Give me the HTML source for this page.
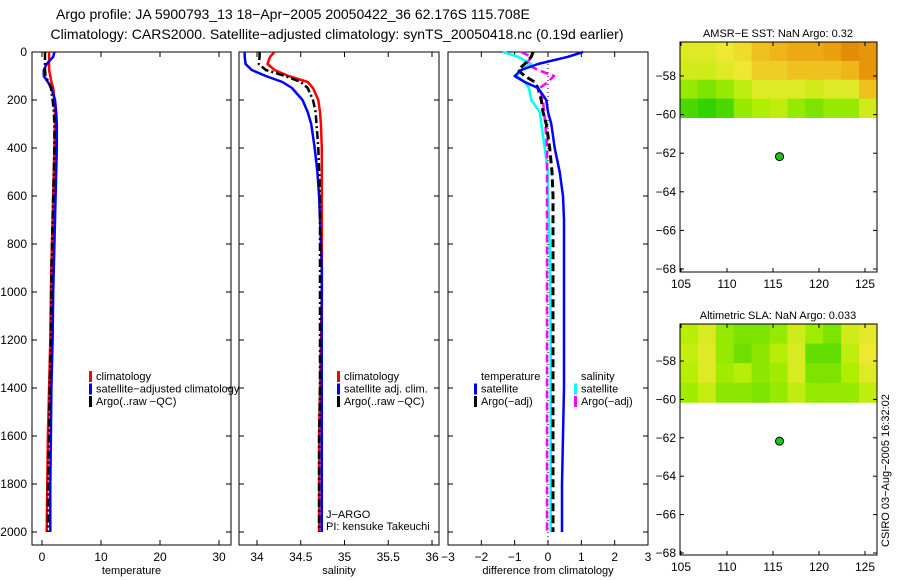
<!DOCTYPE html>
<html><head><meta charset="utf-8"><style>
body{margin:0;background:#fff;}
svg{display:block;font-family:"Liberation Sans",sans-serif;}
</style></head><body>
<svg id="c" width="900" height="580" viewBox="0 0 900 580">
<text x="56" y="19" font-size="14">Argo profile: JA 5900793_13 18−Apr−2005 20050422_36 62.176S 115.708E</text>
<text x="337" y="39" text-anchor="middle" font-size="14" textLength="573">Climatology: CARS2000. Satellite−adjusted climatology: synTS_20050418.nc (0.19d earlier)</text>
<g id="g"></g>
<text transform="translate(889,547) rotate(-90)" font-size="11">CSIRO 03−Aug−2005 16:32:02</text>
</svg>
<script>
const depths=[0,20,50,75,100,125,150,200,250,300,400,500,600,700,800,900,1000,1200,1400,1600,1800,2000];
const tempClim=[1.2,1.2,1.2,1.2,1.4,1.6,1.9,2.1,2.2,2.2,2.1,2.0,1.9,1.8,1.7,1.6,1.5,1.4,1.2,1.0,0.9,0.8];
const tempSat=[2.1,1.9,0.8,0.3,0.3,1.0,1.6,2.2,2.4,2.5,2.5,2.4,2.3,2.2,2.1,2.0,1.9,1.8,1.6,1.5,1.4,1.4];
const tempArgo=[0.5,0.5,0.5,0.5,0.6,1.1,1.5,1.8,2.0,2.1,2.1,2.0,1.9,1.8,1.7,1.6,1.6,1.5,1.3,1.2,1.0,1.0];
const salClim=[34.2,34.15,34.12,34.2,34.36,34.58,34.64,34.7,34.72,34.73,34.74,34.74,34.74,34.74,34.74,34.74,34.74,34.73,34.72,34.71,34.71,34.71];
const salSat=[33.86,33.86,33.87,33.94,34.1,34.29,34.4,34.52,34.58,34.62,34.66,34.69,34.71,34.72,34.73,34.74,34.74,34.74,34.74,34.74,34.74,34.74];
const salArgo=[34.03,34.03,34.02,34.1,34.32,34.5,34.58,34.64,34.67,34.68,34.7,34.71,34.72,34.72,34.72,34.72,34.72,34.72,34.72,34.71,34.71,34.71];
const dTempSat=[1.05,0.6,-0.3,-0.8,-1.0,-0.7,-0.3,-0.05,0,0.1,0.2,0.35,0.45,0.48,0.48,0.48,0.48,0.48,0.48,0.45,0.42,0.42];
const dTempArgo=[-0.45,-0.5,-0.7,-0.9,-0.7,-0.4,-0.3,-0.2,-0.15,-0.05,0.05,0.12,0.15,0.15,0.15,0.15,0.15,0.15,0.15,0.15,0.15,0.15];
const dSalSat=[-1.35,-0.9,-0.5,-0.8,-0.95,-0.7,-0.57,-0.5,-0.25,-0.2,-0.1,0,0,0.03,0.05,0.06,0.07,0.08,0.08,0.08,0.08,0.08];
const dSalArgo=[-0.8,-0.5,-0.65,-0.3,0.18,0,-0.25,-0.15,-0.12,-0.08,-0.03,-0.03,-0.03,-0.03,-0.03,-0.03,-0.03,-0.03,-0.03,-0.03,-0.03,-0.03];
const depthTicks=[0,200,400,600,800,1000,1200,1400,1600,1800,2000];
const tempTicks=[0,10,20,30];
const salTicks=[34,34.5,35,35.5,36];
const diffTicks=[-3,-2,-1,0,1,2,3];
const lonTicks=[105,110,115,120,125];
const latTicks=[-58,-60,-62,-64,-66,-68];
const sstGrid=[[0.5,0.5,0.55,0.6,0.7,0.75,0.8,0.8,0.85,0.95,0.9],[0.45,0.45,0.5,0.55,0.65,0.65,0.7,0.7,0.7,0.75,0.9],[0.3,0.25,0.3,0.4,0.5,0.5,0.5,0.45,0.5,0.5,0.7],[0.15,0.1,0.15,0.3,0.35,0.4,0.3,0.25,0.3,0.3,0.45]];
const slaGrid=[[0.38,0.48,0.3,0.25,0.25,0.3,0.45,0.32,0.25,0.45,0.52],[0.42,0.5,0.3,0.22,0.28,0.38,0.48,0.2,0.2,0.4,0.55],[0.38,0.5,0.32,0.38,0.28,0.32,0.48,0.25,0.25,0.35,0.5],[0.32,0.42,0.28,0.28,0.25,0.3,0.4,0.3,0.3,0.3,0.4]];
const floatLon=115.708, floatLat=-62.176;

const NS="http://www.w3.org/2000/svg";
const G=document.getElementById('g');
function mk(t,a,p){const e=document.createElementNS(NS,t);for(const k in a)e.setAttribute(k,a[k]);(p||G).appendChild(e);return e;}
function lin(d0,d1,r0,r1){return v=>r0+(v-d0)*(r1-r0)/(d1-d0);}
const yD=lin(0,2000,52,532);

function panel(name,x0,x1,xs,xt,xtitle){
  const f=mk('rect',{x:x0,y:52,width:x1-x0,height:493,fill:'none',stroke:'#000','stroke-width':1});
  
  
  depthTicks.forEach(d=>{const y=yD(d);
    mk('line',{x1:x0,x2:x0+5,y1:y,y2:y,stroke:'#000'});mk('line',{x1:x1-5,x2:x1,y1:y,y2:y,stroke:'#000'});
    if(name==='temperature-panel'){const t=mk('text',{x:x0-5,y:y+4,'text-anchor':'end','font-size':12});t.textContent=d;
      
      }
  });
  xt.forEach(v=>{const x=xs(v);
    mk('line',{x1:x,x2:x,y1:545,y2:540,stroke:'#000'});mk('line',{x1:x,x2:x,y1:52,y2:57,stroke:'#000'});
    const t=mk('text',{x:x,y:561,'text-anchor':'middle','font-size':12});t.textContent=String(v).replace('-','−');
    
    
  });
  const tt=mk('text',{x:(x0+x1)/2,y:574,'text-anchor':'middle','font-size':11});tt.textContent=xtitle;
  
  
}
function series(name,xs,vals,color,w,dash){
  const pts=vals.map((v,i)=>xs(v).toFixed(1)+','+yD(depths[i]).toFixed(1));
  const a={points:pts.join(' '),fill:'none',stroke:color,'stroke-width':w,'stroke-linejoin':'round'};if(dash)a['stroke-dasharray']=dash;
  const p=mk('polyline',a);
  
  
}
function legend(x,y,items){
  items.forEach((it,i)=>{const yy=y+i*12.5;
    if(it[1]){mk('rect',{x:x,y:yy-9,width:3,height:11,fill:it[1]});}
    const t=mk('text',{x:x+7,y:yy,'font-size':11});t.textContent=it[0];
    
    
  });
}
const xT=lin(0,30,42,219), xS=lin(34,36,257,432), xDf=lin(-3,3,448,648);
panel('temperature-panel',32,231,xT,tempTicks,'temperature');
panel('salinity-panel',239,439,xS,salTicks,'salinity');
panel('difference-panel',448,648,xDf,diffTicks,'difference from climatology');
mk('line',{x1:xDf(0),x2:xDf(0),y1:52,y2:545,stroke:'#000','stroke-dasharray':'1,3'});
series('temp-climatology-line',xT,tempClim,'#f00',2.5);
series('temp-satellite-line',xT,tempSat,'#00f',2.5);
series('temp-argo-line',xT,tempArgo,'#000',2.5,'8,3,2,3');
series('sal-climatology-line',xS,salClim,'#f00',2.5);
series('sal-satellite-line',xS,salSat,'#00f',2.5);
series('sal-argo-line',xS,salArgo,'#000',2.5,'8,3,2,3');
series('diff-sal-satellite-line',xDf,dSalSat,'#0ff',2.5);
series('diff-sal-argo-line',xDf,dSalArgo,'#f0f',2.5,'8,4');
series('diff-temp-argo-line',xDf,dTempArgo,'#000',3,'8,4');
series('diff-temp-satellite-line',xDf,dTempSat,'#00f',2.5);
legend(89,380,[['climatology','#f00'],['satellite−adjusted climatology','#00f'],['Argo(..raw −QC)','#000']]);
legend(337,380,[['climatology','#f00'],['satellite adj. clim.','#00f'],['Argo(..raw −QC)','#000']]);
legend(474,380,[['temperature',null],['satellite','#00f'],['Argo(−adj)','#000']]);
legend(574,380,[['salinity',null],['satellite','#0ff'],['Argo(−adj)','#f0f']]);
const j=mk('text',{x:326,y:518,'font-size':11});j.textContent='J−ARGO';


const pi=mk('text',{x:326,y:530,'font-size':11});pi.textContent='PI: kensuke Takeuchi';



const stops=[[0,[0,200,0]],[0.35,[175,238,0]],[0.55,[238,232,50]],[0.75,[238,180,25]],[1,[225,130,0]]];
function cmap(v){for(let i=1;i<stops.length;i++){if(v<=stops[i][0]){const a=stops[i-1],b=stops[i],t=(v-a[0])/(b[0]-a[0]);return 'rgb('+a[1].map((c,k)=>Math.round(c+(b[1][k]-c)*t)).join(',')+')';}}return 'rgb(225,130,0)';}
function map(name,title,top,bottom,latTickY,grid){
  const xL=lin(105,125,681,865);
  const yL=lin(latTickY[0],latTickY[1],latTickY[2],latTickY[3]);
  const nR=grid.length,nC=grid[0].length;
  const yTop=top, yBot=yL(-60.15), x0=680, x1=877;
  grid.forEach((row,r)=>row.forEach((v,c)=>{
    const cell=mk('rect',{x:x0+c*(x1-x0)/nC,y:yTop+r*(yBot-yTop)/nR,width:(x1-x0)/nC+0.5,height:(yBot-yTop)/nR+0.5,fill:cmap(v)});
    
    
  }));
  const f=mk('rect',{x:680,y:top,width:197,height:bottom-top,fill:'none',stroke:'#000'});
  
  
  latTicks.forEach(l=>{const y=yL(l);mk('line',{x1:680,x2:684,y1:y,y2:y,stroke:'#000'});mk('line',{x1:873,x2:877,y1:y,y2:y,stroke:'#000'});
    const t=mk('text',{x:676,y:y+4,'text-anchor':'end','font-size':12});t.textContent=String(l).replace('-','−');
    
    });
  lonTicks.forEach(l=>{const x=xL(l);mk('line',{x1:x,x2:x,y1:bottom,y2:bottom-4,stroke:'#000'});mk('line',{x1:x,x2:x,y1:top,y2:top+4,stroke:'#000'});
    const t=mk('text',{x:x,y:bottom+16,'text-anchor':'middle','font-size':12});t.textContent=l;
    
    });
  const tt=mk('text',{x:778,y:top-5,'text-anchor':'middle','font-size':11});tt.textContent=title;
  
  
  const dot=mk('circle',{cx:xL(floatLon),cy:yL(floatLat),r:4,fill:'#1c1',stroke:'#000','stroke-width':1});
  
  
}
map('sst-map','AMSR−E SST: NaN Argo: 0.32',42,272,[-58,-68,76,269],sstGrid);
map('sla-map','Altimetric SLA: NaN Argo: 0.033',324,555,[-58,-68,361,553],slaGrid);
</script>
</body></html>
